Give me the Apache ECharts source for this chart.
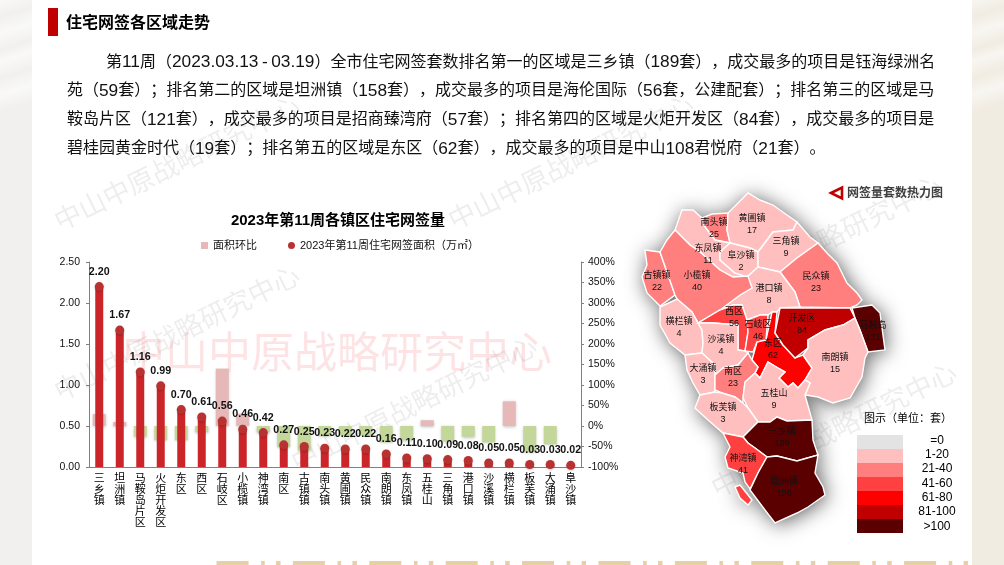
<!DOCTYPE html>
<html><head><meta charset="utf-8">
<style>html,body{margin:0;padding:0;background:#fff}#c{width:1004px;height:565px}</style>
<script src="https://cdn.jsdelivr.net/npm/echarts@6/dist/echarts.min.js"></script>
</head><body><div id="c"></div>
<script>
const categories=['三乡镇','坦洲镇','马鞍岛片区','火炬开发区','东区','西区','石岐区','小榄镇','神湾镇','南区','古镇镇','南头镇','黄圃镇','民众镇','南朗镇','东凤镇','五桂山','三角镇','港口镇','沙溪镇','横栏镇','板芙镇','大涌镇','阜沙镇'];
const areaValues=[2.20,1.67,1.16,0.99,0.70,0.61,0.56,0.46,0.42,0.27,0.25,0.23,0.22,0.22,0.16,0.11,0.10,0.09,0.08,0.05,0.05,0.03,0.03,0.02];
const areaChange=[29,10,-26,-35,-35,-15,140,30,-15,-52,-60,-25,-22,-22,-40,-33,14,-36,-26,-40,60,-64,-45,0];
const leftTicks={min:0,max:2.5,step:0.5};
const rightTicks={min:-100,max:400,step:50};
const regionNames=['南头镇','黄圃镇','东凤镇','阜沙镇','三角镇','民众镇','港口镇','古镇镇','小榄镇','横栏镇','西区','石岐区','沙溪镇','东区','开发区','马鞍岛','南朗镇','大涌镇','南区','五桂山','板芙镇','三乡镇','神湾镇','坦洲镇'];
const regionCounts=[25,17,11,2,9,23,8,22,40,4,56,46,4,62,84,121,15,3,23,9,3,189,41,158];
const legendLabels=['=0','1-20','21-40','41-60','61-80','81-100','>100'];
const legendColors=['#e3e3e3','#ffbfbf','#ff7f7f','#ff4040','#ff0000','#c00000','#5a0000'];
const legendRanges=[[0,0],[1,20],[21,40],[41,60],[61,80],[81,100],[101,9999]];
const bodyLines=['第11周（2023.03.13-03.19）全市住宅网签套数排名第一的区域是三乡镇（189套），成交最多的项目是钰海绿洲名',
'苑（59套）；排名第二的区域是坦洲镇（158套），成交最多的项目是海伦国际（56套，公建配套）；排名第三的区域是马',
'鞍岛片区（121套），成交最多的项目是招商臻湾府（57套）；排名第四的区域是火炬开发区（84套），成交最多的项目是',
'碧桂园黄金时代（19套）；排名第五的区域是东区（62套），成交最多的项目是中山108君悦府（21套）。'];
// map boundaries (geographic outline data) and label anchors
const regionOutlines={
'南头镇':[[[702,218],[712,214],[728,213],[727,230],[730,243],[715,240],[705,227]]],
'黄圃镇':[[[748,193],[728,213],[727,230],[730,243],[750,248],[758,252],[773,232],[793,230],[797,222],[787,215],[773,205],[760,200]]],
'东凤镇':[[[682,210],[693,210],[702,218],[705,227],[715,240],[730,243],[720,252],[720,260],[735,273],[748,276],[733,277],[720,270],[700,252],[690,245],[675,230]]],
'阜沙镇':[[[730,243],[750,248],[758,252],[758,267],[747,277],[735,273],[720,260],[720,252]]],
'三角镇':[[[758,252],[773,232],[793,230],[797,222],[810,237],[818,243],[797,258],[780,272],[758,267]]],
'民众镇':[[[818,243],[797,258],[780,272],[795,292],[800,307],[850,308],[857,305],[862,300],[857,293],[847,283],[837,263],[827,253]]],
'港口镇':[[[747,277],[758,267],[780,272],[795,292],[800,307],[780,308],[777,312],[772,312],[768,315],[760,315],[747,320],[742,305],[733,305],[720,310],[740,295],[752,288]]],
'古镇镇':[[[645,250],[660,252],[675,295],[660,306],[647,293],[642,277],[647,265]]],
'小榄镇':[[[675,230],[690,245],[700,252],[720,270],[733,277],[748,276],[752,288],[740,295],[720,310],[698,323],[692,312],[677,299],[675,295],[660,252],[667,240]]],
'横栏镇':[[[660,307],[677,299],[692,312],[698,323],[702,330],[703,343],[702,353],[685,355],[670,343],[660,325]]],
'西区':[[[720,310],[733,305],[742,305],[747,320],[748,332],[745,351],[738,350],[738,325],[713,323],[698,323]]],
'石岐区':[[[747,320],[760,315],[768,315],[766,340],[757,342],[753,352],[745,351],[748,332]]],
'沙溪镇':[[[698,323],[713,323],[738,325],[738,350],[745,351],[748,353],[738,365],[723,368],[715,375],[715,365],[702,353],[703,343],[702,330]]],
'东区':[[[772,312],[777,312],[775,333],[783,345],[795,358],[803,355],[812,368],[805,380],[798,388],[793,383],[788,387],[779,378],[785,372],[778,368],[768,362],[760,378],[755,373],[758,367],[752,360],[757,342],[766,340]]],
'开发区':[[[780,308],[850,308],[855,318],[843,325],[825,330],[808,340],[808,348],[795,358],[783,345],[775,333]]],
'马鞍岛':[[[852,308],[872,305],[880,313],[885,350],[868,352],[860,330],[855,318]]],
'南朗镇':[[[855,318],[860,330],[868,352],[865,358],[862,377],[850,398],[833,403],[818,397],[805,395],[810,383],[805,380],[812,368],[803,355],[808,348],[808,340],[825,330],[843,325]]],
'大涌镇':[[[685,355],[702,353],[715,365],[715,392],[700,395],[693,383],[687,370]]],
'南区':[[[715,375],[723,368],[738,365],[748,353],[752,360],[758,367],[755,373],[745,382],[743,398],[743,403],[735,397],[722,393],[715,390]]],
'五桂山':[[[768,362],[778,368],[785,372],[779,378],[788,387],[793,383],[798,388],[805,380],[810,383],[805,395],[812,420],[787,421],[777,417],[770,422],[758,422],[748,408],[743,398],[745,382],[755,373],[760,378]]],
'板芙镇':[[[700,395],[715,392],[722,393],[735,397],[743,403],[748,408],[758,422],[743,437],[723,433],[708,420],[695,408]]],
'三乡镇':[[[743,437],[758,422],[770,422],[777,417],[787,421],[812,420],[813,440],[818,455],[797,461],[777,456],[767,457],[755,448],[748,443]]],
'神湾镇':[[[723,433],[743,437],[748,443],[755,448],[767,457],[758,473],[750,489],[745,482],[743,473],[728,468],[725,457],[730,447]],[[735,487],[740,485],[752,500],[748,505],[740,498]]],
'坦洲镇':[[[767,457],[777,456],[797,461],[818,455],[815,473],[823,487],[825,495],[808,507],[797,513],[775,523],[765,510],[750,490],[758,473]]]
};
const regionAnchors={'南头镇':[714,229],'黄圃镇':[752,225],'东凤镇':[708,255],'阜沙镇':[741,262],'三角镇':[786,248],'民众镇':[816,283],'港口镇':[769,295],'古镇镇':[657,282],'小榄镇':[697,282],'横栏镇':[679,328],'西区':[734,318],'石岐区':[758,331],'沙溪镇':[721,346],'东区':[773,350],'开发区':[802,325],'马鞍岛':[873,332],'南朗镇':[835,364],'大涌镇':[703,375],'南区':[733,378],'五桂山':[774,400],'板芙镇':[723,414],'三乡镇':[782,438],'神湾镇':[743,465],'坦洲镇':[784,488]};

const SANS='"Liberation Sans","Noto Sans CJK SC",sans-serif';
const flip=r=>r.map(p=>[p[0],-p[1]]);
echarts.registerMap('zs',{type:'FeatureCollection',features:regionNames.map(n=>{
  const rings=regionOutlines[n].map(flip);
  const a=regionAnchors[n];
  return {type:'Feature',properties:{name:n,cp:[a[0],-a[1]]},
    geometry:{type:'MultiPolygon',coordinates:rings.map(r=>[r])}};
})});
const box={left:630,top:180,width:270,height:350};
const coords=[[box.left,-box.top],[box.left+box.width,-(box.top+box.height)]];

const g=[];
const stripe=(a,b)=>({type:'linear',x:0,y:0,x2:1,y2:0.18,colorStops:[0,.15,.3,.45,.55,.7,.85,1].map((o,i)=>({offset:o,color:i%2?a:b}))});
g.push({type:'rect',z:0,shape:{x:0,y:0,width:32,height:565},style:{fill:stripe('#f1f0ee','#f9f9f8')}});
g.push({type:'rect',z:0,shape:{x:972,y:0,width:32,height:565},style:{fill:stripe('#f1ece2','#f8f6f2')}});
for(let x=216.5;x<975;x+=76.4){
  [[0,32],[44.6,3.6],[59.5,4.5]].forEach(d=>{
    if(x+d[0]<972) g.push({type:'rect',z:0,shape:{x:x+d[0],y:561,width:d[1],height:4},style:{fill:'#e8cfa4'}});
  });
}
const WM='中山中原战略研究中心';
[[178,165],[178,335],[415,406],[572,164],[820,245],[835,432]].forEach(p=>{
  g.push({type:'text',z:0,x:p[0],y:p[1],rotation:0.46,style:{text:WM,fontSize:27,fontFamily:SANS,fill:'rgba(0,0,0,0.07)',align:'center',verticalAlign:'middle'}});
});
g.push({type:'text',z:0,x:337,y:356,style:{text:WM,fontSize:43,fontFamily:SANS,fill:'rgba(240,60,60,0.14)',align:'center',verticalAlign:'middle'}});
// soft shadow under the map, from the same outlines
regionNames.forEach(n=>regionOutlines[n].forEach(r=>{
  g.push({type:'polygon',z:1,shape:{points:r},style:{fill:'#fff',shadowColor:'rgba(0,0,0,0.65)',shadowBlur:20,shadowOffsetX:2,shadowOffsetY:2}});
}));
g.push({type:'rect',z:1,shape:{x:48,y:8,width:10,height:28},style:{fill:'#c00000'}});
g.push({type:'text',z:1,x:66,y:24,style:{text:'住宅网签各区域走势',fontSize:16,fontWeight:'bold',fontFamily:SANS,fill:'#000',verticalAlign:'middle'}});
const toRich=s=>s.replace(/-/g,'\u0001').replace(/\d[\d.]*/g,m=>'{d|'+m+'}').replace(/\u0001/g,'{h|-}').replace(/[（）；，：。]/g,m=>'{f|'+m+'}');
bodyLines.forEach((l,i)=>{
  g.push({type:'text',z:1,x:i===0?106:67,y:[62.5,91,120,149][i],style:{text:toRich(l),fontSize:16,fontFamily:SANS,fill:'#111',verticalAlign:'middle',
    rich:{d:{fontSize:17.3,fontFamily:SANS,fill:'#111'},f:{fontSize:16,fontFamily:SANS,fill:'#111'},h:{fontSize:17.3,fontFamily:SANS,fill:'#111',padding:[0,3.5,0,3.5]}}}});
});
g.push({type:'text',z:3,x:338,y:221,style:{text:'2023年第11周各镇区住宅网签量',fontSize:15,fontWeight:'bold',fontFamily:SANS,fill:'#000',align:'center',verticalAlign:'middle'}});
g.push({type:'polygon',z:3,shape:{points:[[831,193],[842,187.5],[842,198.5]]},style:{fill:'#fff',stroke:'#c00000',lineWidth:2.6}});
g.push({type:'text',z:3,x:847,y:194,style:{text:'网签量套数热力图',fontSize:12,fontWeight:'bold',fontFamily:SANS,fill:'#404040',verticalAlign:'middle',shadowColor:'rgba(0,0,0,.35)',shadowBlur:2,shadowOffsetX:1,shadowOffsetY:1}});
g.push({type:'text',z:6,x:908,y:419,style:{text:'图示（单位：套）',fontSize:11,fontFamily:SANS,fill:'#000',align:'center',verticalAlign:'middle'}});
legendLabels.forEach((t,i)=>{
  g.push({type:'text',z:6,x:937,y:440.5+i*14.3,style:{text:t,fontSize:12,fontFamily:SANS,fill:'#000',align:'center',verticalAlign:'middle'}});
});

const chart=echarts.init(document.getElementById('c'),null,{renderer:'canvas'});
chart.setOption({
  animation:false,
  backgroundColor:'#fff',
  graphic:{elements:g},
  legend:{left:201,top:240,padding:0,itemWidth:7,itemHeight:7,itemGap:31,selectedMode:false,
    textStyle:{fontSize:11,fontFamily:SANS,color:'#111'},
    data:[{name:'面积环比',icon:'rect'},{name:'2023年第11周住宅网签面积（万㎡）',icon:'circle'}]},
  grid:{left:89,right:423,top:262,bottom:98},
  xAxis:{type:'category',data:categories,
    axisLine:{lineStyle:{color:'#808080'}},axisTick:{show:false},
    axisLabel:{interval:0,margin:6,fontSize:11,lineHeight:11.2,color:'#000',fontFamily:SANS,formatter:v=>v.split('').join('\n')}},
  yAxis:[
    {type:'value',min:leftTicks.min,max:leftTicks.max,interval:leftTicks.step,splitLine:{show:false},
     axisLine:{show:true,lineStyle:{color:'#808080'}},axisTick:{show:true,length:3,lineStyle:{color:'#808080'}},
     axisLabel:{margin:9,fontSize:10.5,color:'#111',fontFamily:SANS,formatter:v=>v.toFixed(2)}},
    {type:'value',position:'right',min:rightTicks.min,max:rightTicks.max,interval:rightTicks.step,splitLine:{show:false},
     axisLine:{show:true,lineStyle:{color:'#808080'}},axisTick:{show:true,length:3,lineStyle:{color:'#808080'}},
     axisLabel:{margin:7,fontSize:10.5,color:'#111',fontFamily:SANS,formatter:'{value}%'}}
  ],
  visualMap:{type:'piecewise',seriesIndex:3,orient:'vertical',inverse:true,left:857,top:435,padding:0,align:'left',itemWidth:46,itemHeight:14,itemGap:0,itemSymbol:'rect',textGap:0,
    hoverLink:false,selectedMode:false,showLabel:true,textStyle:{fontSize:1,color:'rgba(0,0,0,0)'},
    pieces:legendRanges.map((r,i)=>({min:r[0],max:r[1],label:' ',color:legendColors[i]}))},
  series:[
    {name:'面积环比',type:'bar',yAxisIndex:1,barWidth:13,z:2,
     itemStyle:{color:'#e6b8b7',shadowColor:'rgba(0,0,0,0.25)',shadowBlur:3,shadowOffsetY:1},
     data:areaChange.map(v=>({value:v,itemStyle:{color:v<0?'#c4d79b':'#e6b8b7'}}))},
    {name:'面积柱',type:'pictorialBar',symbol:'rect',symbolSize:[8,'100%'],z:3,itemStyle:{color:'#cb2529'},data:areaValues},
    {name:'2023年第11周住宅网签面积（万㎡）',type:'line',z:4,symbol:'circle',symbolSize:9,clip:false,
     lineStyle:{width:0,opacity:0},itemStyle:{color:'#b83232',shadowColor:'rgba(0,0,0,0.2)',shadowBlur:2,shadowOffsetY:1},
     label:{show:true,position:'top',distance:5,fontSize:10.7,fontWeight:'bold',fontFamily:SANS,color:'#111',formatter:p=>p.value.toFixed(2)},
     data:areaValues},
    {name:'热力',type:'map',map:'zs',aspectScale:1,boundingCoords:coords,...box,z:5,silent:true,showLegendSymbol:false,
     itemStyle:{borderColor:'#fff',borderWidth:1.4},
     label:{show:true,fontSize:9,lineHeight:12,color:'#111',fontFamily:SANS,formatter:p=>p.name+'\n'+p.value},
     emphasis:{disabled:true},select:{disabled:true},
     data:regionNames.map((n,i)=>({name:n,value:regionCounts[i]}))}
  ]
});
</script></body></html>
